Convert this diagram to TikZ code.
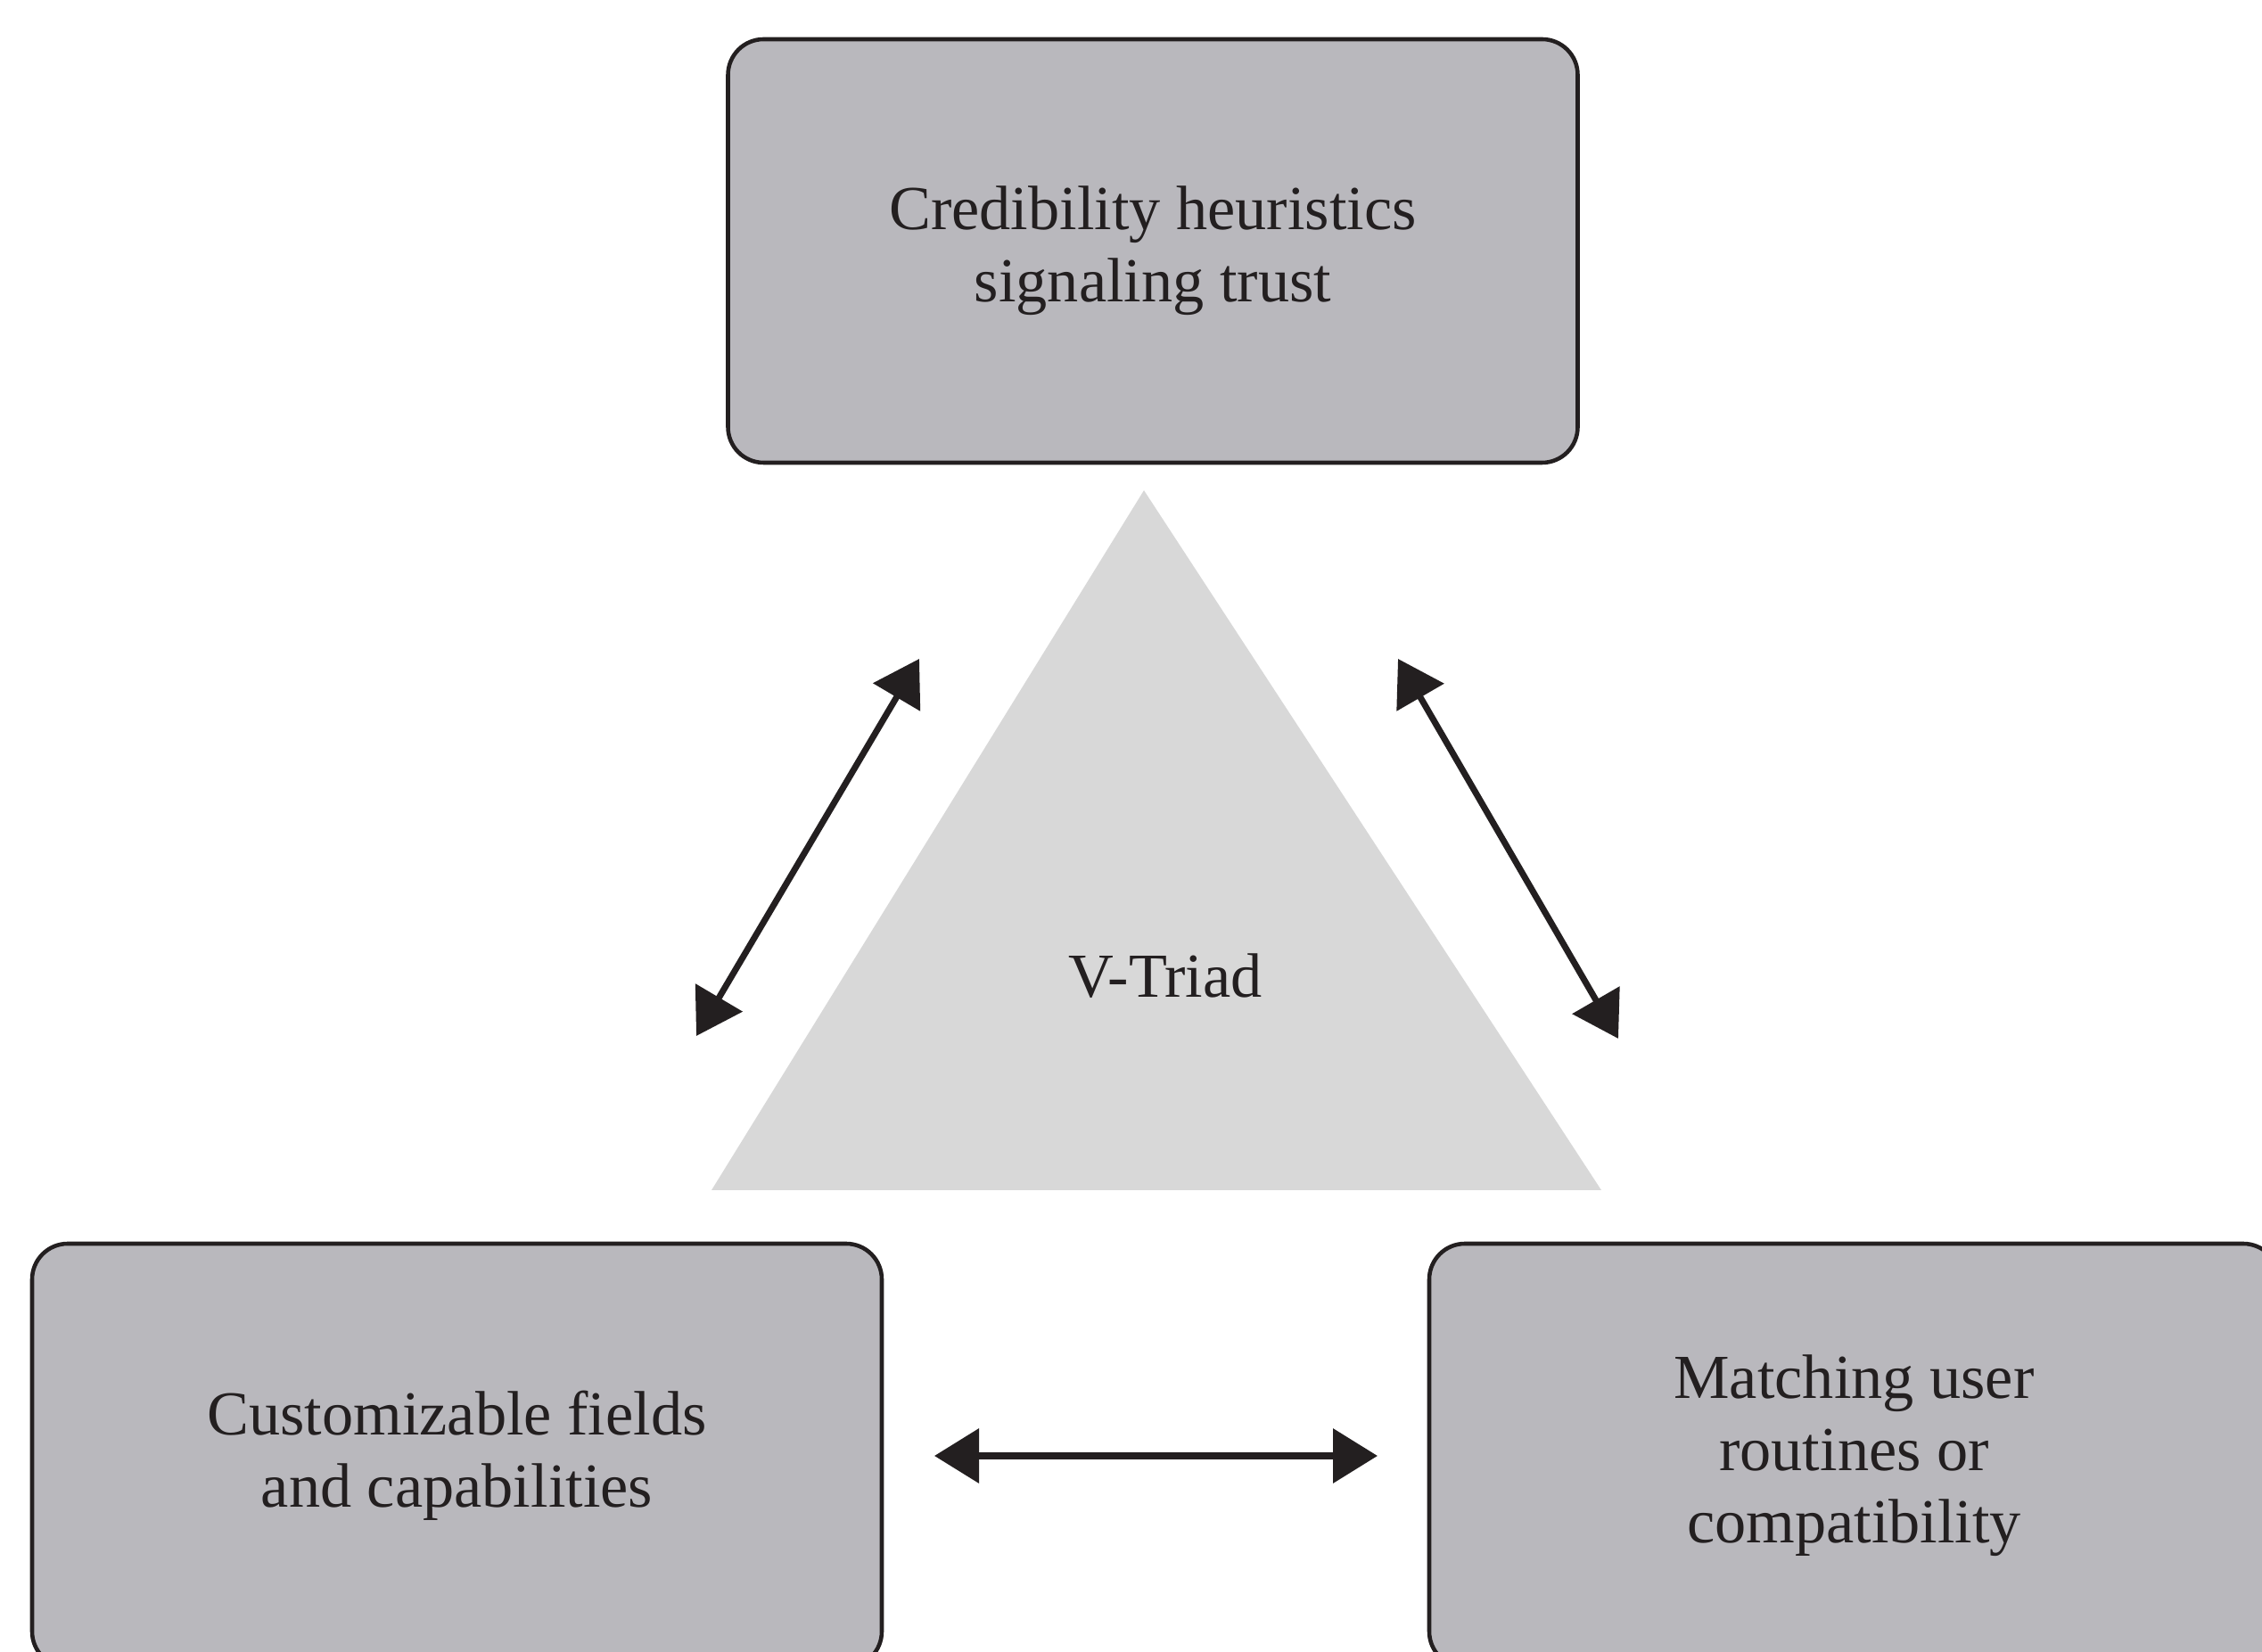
\documentclass[tikz,border=0pt]{standalone}
\usepackage{fontspec}
\setmainfont{Liberation Serif}
\usepackage{xcolor}
\usepackage{tikz}
\usetikzlibrary{arrows.meta}

\definecolor{boxgray}{RGB}{185,184,189}
\definecolor{trigray}{RGB}{216,216,216}
\definecolor{inkgray}{RGB}{35,31,32}

\tikzset{
  factor/.style={draw=inkgray, line width=1.3pt, fill=boxgray, rounded corners=0.4cm,
    minimum width=9.53cm, minimum height=4.75cm, align=center, text=inkgray,
    font=\fontsize{20}{23}\selectfont, inner sep=0pt},
  link/.style={draw=inkgray, line width=2pt,
    {Triangle[length=5mm,width=6mm]}-{Triangle[length=5mm,width=6mm]}}
}

\begin{document}
\begin{tikzpicture}
\useasboundingbox (0,0) rectangle (25.37,18.53);
\clip (0,0) rectangle (25.37,18.53);
\fill[trigray] (12.83,13.03) -- (7.98,5.18) -- (17.96,5.18) -- cycle;
  \node[text=inkgray, font=\fontsize{20}{23}\selectfont] (triad) at (13.07,7.58) {V-Triad};
  \node[factor] (cred) at (12.93,15.715) {Credibility heuristics\\signaling trust};
  \node[factor] (custom) at (5.125,2.205) {Customizable fields\\and capabilities};
  \node[factor] (match) at (20.795,2.205) {Matching user\\routines or\\compatibility};
  \coordinate (l1) at (7.81,6.91);
  \coordinate (l2) at (10.31,11.14);
  \coordinate (r1) at (15.68,11.14);
  \coordinate (r2) at (18.15,6.88);
  \coordinate (h1) at (10.48,2.20);
  \coordinate (h2) at (15.45,2.20);
  \draw[link] (l1)--(l2);
  \draw[link] (r1)--(r2);
  \draw[link] (h1)--(h2);
\end{tikzpicture}
\end{document}
